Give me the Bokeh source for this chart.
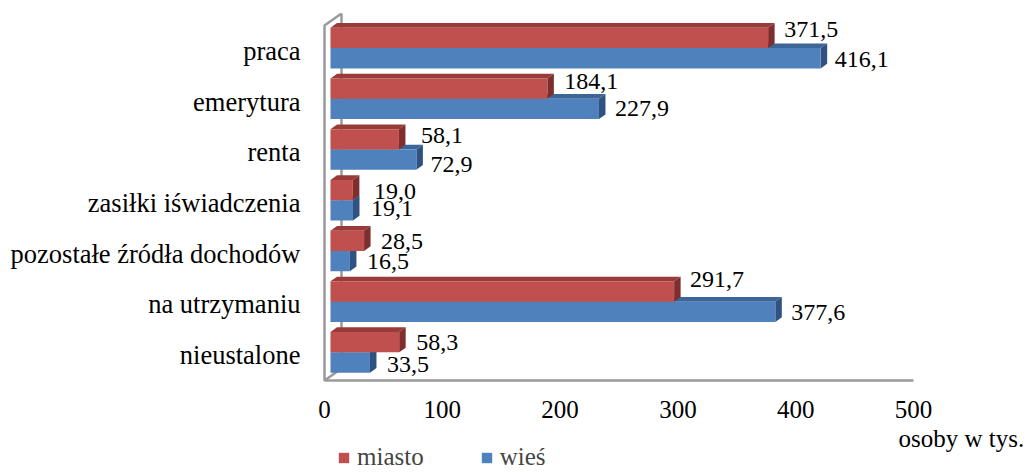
import numpy as np
from bokeh.plotting import figure
from bokeh.models import Range1d, FixedTicker, Legend, LegendItem, Label, ColumnDataSource
from bokeh.core.properties import value
from bokeh.embed import file_html
from bokeh.resources import INLINE

# ---------------- data ----------------
categories = ["praca", "emerytura", "renta", "zasiłki iświadczenia",
              "pozostałe źródła dochodów", "na utrzymaniu", "nieustalone"]
miasto = [371.5, 184.1, 58.1, 19.0, 28.5, 291.7, 58.3]
wies = [416.1, 227.9, 72.9, 19.1, 16.5, 377.6, 33.5]
x_ticks = [0, 100, 200, 300, 400, 500]
series_names = ["miasto", "wieś"]
x_title = "osoby w tys."

# label nudges in screen px (positions, kept apart from data)
miasto_label_dy = [-8.5, -7, -4, 1.7, 1, -12, 0]
wies_label_dy = [1, 0, 5, -1.5, 0, 0.5, 2]
miasto_label_dx = [16, 17, 22, 21, 17, 16, 17]
wies_label_dx = [14, 16, 14, 18, 17, 16, 17]

# ---------------- layout ----------------
FONT = "Liberation Serif"
W, H = 1032, 472
FRAME_L, MT = 300, 12
ZERO_X = 324            # pixel column of value 0 (front of the wall)
AXIS_Y = 380            # pixel row of the floor (x axis)
AXIS_X_END = 913        # pixel column where 500 sits
XMAX = 500
SX = (AXIS_X_END - ZERO_X) / XMAX
SY = 50.71
n = len(categories)
x_start = -(ZERO_X - FRAME_L) / SX
x_end = (W - ZERO_X) / SX
y_end = (AXIS_Y - MT) / SY
y_start = -(H - AXIS_Y) / SY


def ux(px):
    return px / SX


def uy(px):
    return px / SY


RED, RED_TOP, RED_SIDE = "#C0504D", "#983B39", "#7E2F2D"
BLUE, BLUE_TOP, BLUE_SIDE = "#4F81BD", "#3D6698", "#2F5283"
GRAY = "#9a9a9a"

p = figure(width=W, height=H, x_range=Range1d(x_start, x_end), y_range=Range1d(y_start, y_end),
           output_backend="svg", toolbar_location=None,
           min_border_left=FRAME_L, min_border_right=0, min_border_top=MT, min_border_bottom=0)
p.outline_line_color = None
p.xgrid.visible = False
p.ygrid.visible = False
p.background_fill_color = "white"
p.border_fill_color = "white"

# x axis drawn on the floor line
p.xaxis.fixed_location = 0
p.xaxis.bounds = (0, XMAX)
p.xaxis.ticker = FixedTicker(ticks=x_ticks)
p.xaxis.axis_line_color = GRAY
p.xaxis.axis_line_width = 2.5
p.xaxis.major_tick_in = 0
p.xaxis.major_tick_out = 0
p.xaxis.minor_tick_line_color = None
p.xaxis.major_label_text_font = FONT
p.xaxis.major_label_text_font_size = "25px"
p.xaxis.major_label_text_color = "black"
p.xaxis.major_label_standoff = 20

centers = [n - 1 - i + 0.5 for i in range(n)]
p.yaxis.ticker = FixedTicker(ticks=centers)
p.yaxis.major_label_overrides = {c: cat for c, cat in zip(centers, categories)}
p.yaxis.axis_line_color = None
p.yaxis.major_tick_in = 0
p.yaxis.major_tick_out = 0
p.yaxis.minor_tick_line_color = None
p.yaxis.major_label_text_font = FONT
p.yaxis.major_label_text_font_size = "26.5px"
p.yaxis.major_label_text_color = "black"
p.yaxis.major_label_standoff = 0

# 3D wall (left side wall)
dxw, dyw = ux(17), uy(12)
p.line(x=[dxw, 0, 0, dxw, dxw], y=[n + dyw, n, 0, dyw, n + dyw],
       line_color=GRAY, line_width=2.5)

# bars
shift_x, shift_y = ux(6), uy(2.8)
bar_h = uy(20.3)
ddx, ddy = ux(6.5), uy(4.7)
gc = np.array(centers) + shift_y


def draw_series(vals, yc, front, top, side):
    vals = np.array(vals)
    L = np.full(n, shift_x)
    R = vals + shift_x
    B = yc - bar_h / 2
    T = yc + bar_h / 2
    top_xs = [[l, r, r + ddx, l + ddx] for l, r in zip(L, R)]
    top_ys = [[t, t, t + ddy, t + ddy] for t in T]
    side_xs = [[r, r + ddx, r + ddx, r] for r in R]
    side_ys = [[b, b + ddy, t + ddy, t] for b, t in zip(B, T)]
    p.patches(xs=top_xs, ys=top_ys, fill_color=top, line_color=None)
    p.patches(xs=side_xs, ys=side_ys, fill_color=side, line_color=None)
    r = p.hbar(y=yc, left=L, right=R, height=bar_h, fill_color=front, line_color=None)
    return r, R


blue_r, blue_R = draw_series(wies, gc - bar_h / 2, BLUE, BLUE_TOP, BLUE_SIDE)
red_r, red_R = draw_series(miasto, gc + bar_h / 2, RED, RED_TOP, RED_SIDE)


def fmt(v):
    return f"{v:.1f}".replace(".", ",")


for vals, R, yc, dxs, dys in [(miasto, red_R, gc + bar_h / 2, miasto_label_dx, miasto_label_dy),
                              (wies, blue_R, gc - bar_h / 2, wies_label_dx, wies_label_dy)]:
    src = ColumnDataSource(dict(x=R, y=yc, t=[fmt(v) for v in vals], dx=dxs, dy=dys))
    p.text(x="x", y="y", text="t", x_offset="dx", y_offset="dy", source=src,
           text_font=value(FONT), text_font_size="24px", text_color="black",
           text_align="left", text_baseline="middle")

# axis title (right, below the axis)
p.add_layout(Label(x=ux(898 - ZERO_X), y=-uy(438 - AXIS_Y), text=x_title,
                   text_font=FONT, text_font_size="25px", text_color="black",
                   text_align="left", text_baseline="middle"))

legend = Legend(items=[LegendItem(label=series_names[0], renderers=[red_r]),
                       LegendItem(label=series_names[1], renderers=[blue_r])],
                orientation="horizontal", location=(ZERO_X - FRAME_L + 13, 1),
                glyph_width=13, glyph_height=13, label_standoff=7, spacing=56,
                padding=0, margin=0, border_line_color=None, background_fill_alpha=0,
                label_text_font=FONT, label_text_font_size="25px", label_height=20)
p.add_layout(legend, "center")

open("out.html", "w").write(file_html(p, INLINE))
